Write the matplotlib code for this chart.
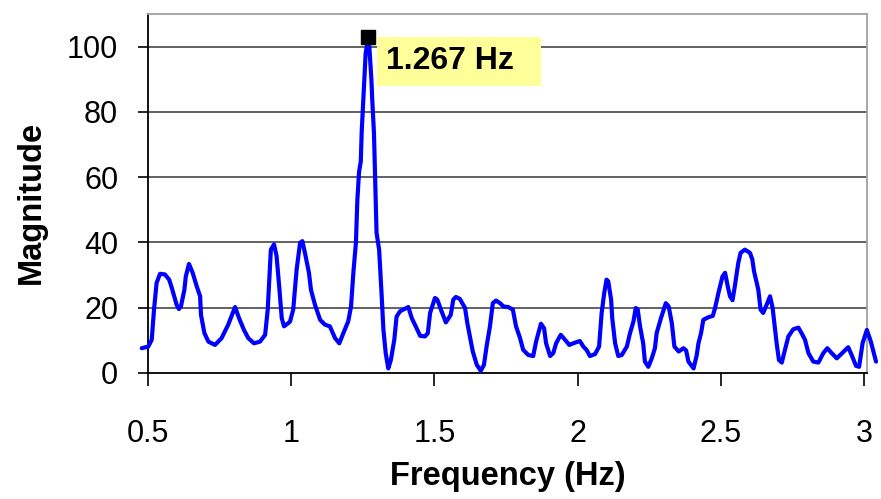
import numpy as np
import matplotlib
matplotlib.use("Agg")
import matplotlib.pyplot as plt

# spectrum (frequency in Hz, magnitude)
freq = [0.478, 0.501, 0.513, 0.521, 0.530, 0.542, 0.559, 0.574, 0.583, 0.600,
        0.608, 0.615, 0.627, 0.632, 0.643, 0.656, 0.670, 0.682, 0.685, 0.697,
        0.711, 0.734, 0.757, 0.780, 0.804, 0.818, 0.835, 0.850, 0.870, 0.891,
        0.909, 0.918, 0.929, 0.940, 0.949, 0.958, 0.967, 0.975, 0.990, 0.996,
        1.007, 1.019, 1.031, 1.039, 1.048, 1.062, 1.069, 1.083, 1.101, 1.118,
        1.135, 1.153, 1.168, 1.182, 1.199, 1.209, 1.217, 1.226, 1.231, 1.237,
        1.243, 1.246, 1.254, 1.260, 1.266, 1.272, 1.280, 1.283, 1.289, 1.298,
        1.307, 1.316, 1.322, 1.330, 1.339, 1.348, 1.360, 1.368, 1.380, 1.395,
        1.409, 1.421, 1.438, 1.450, 1.467, 1.477, 1.485, 1.502, 1.510, 1.525,
        1.540, 1.557, 1.566, 1.575, 1.589, 1.607, 1.615, 1.624, 1.634, 1.648,
        1.662, 1.673, 1.683, 1.694, 1.704, 1.715, 1.729, 1.741, 1.758, 1.774,
        1.785, 1.799, 1.810, 1.828, 1.845, 1.855, 1.863, 1.872, 1.883, 1.890,
        1.904, 1.915, 1.925, 1.941, 1.956, 1.971, 1.991, 2.008, 2.020, 2.031,
        2.043, 2.061, 2.075, 2.084, 2.093, 2.101, 2.107, 2.117, 2.121, 2.131,
        2.142, 2.154, 2.172, 2.183, 2.195, 2.203, 2.210, 2.218, 2.229, 2.235,
        2.247, 2.259, 2.270, 2.276, 2.291, 2.308, 2.318, 2.329, 2.338, 2.353,
        2.370, 2.379, 2.387, 2.405, 2.416, 2.422, 2.431, 2.439, 2.457, 2.472,
        2.480, 2.493, 2.506, 2.515, 2.523, 2.532, 2.541, 2.549, 2.561, 2.569,
        2.584, 2.602, 2.610, 2.616, 2.631, 2.639, 2.648, 2.660, 2.672, 2.681,
        2.687, 2.695, 2.703, 2.713, 2.724, 2.736, 2.753, 2.771, 2.782, 2.794,
        2.806, 2.823, 2.841, 2.858, 2.872, 2.887, 2.905, 2.926, 2.945, 2.957,
        2.972, 2.983, 2.995, 3.010, 3.024, 3.042]
magnitude = [7.6, 8.1, 10.2, 19.4, 27.6, 30.4, 30.2, 28.6, 26.1, 20.9,
             19.6, 20.4, 25.5, 29.6, 33.4, 30.7, 26.6, 23.5, 17.8, 12.2,
             9.6, 8.6, 10.7, 14.8, 20.2, 16.8, 13.2, 10.7, 9.1, 9.6,
             11.7, 19.4, 37.8, 39.4, 35.8, 26.6, 16.8, 14.3, 15.3, 15.8,
             19.4, 31.7, 39.9, 40.4, 36.8, 30.7, 25.5, 20.9, 16.3, 14.8,
             14.3, 10.7, 9.1, 12.2, 15.8, 20.4, 30.7, 39.9, 53.0, 61.7,
             64.8, 73.6, 87.8, 98.0, 101.1, 101.1, 89.9, 83.7, 73.5, 43.0,
             37.8, 23.5, 13.2, 6.1, 1.4, 4.0, 10.2, 17.3, 18.9, 19.6,
             20.2, 16.8, 13.7, 11.4, 11.2, 12.2, 18.4, 23.0, 22.5, 18.9,
             15.5, 17.8, 22.5, 23.3, 22.7, 19.9, 15.3, 11.2, 6.6, 2.5,
             0.7, 2.5, 8.6, 14.3, 21.4, 22.2, 21.4, 20.4, 20.2, 19.4,
             14.3, 10.7, 7.1, 5.5, 5.2, 9.6, 12.2, 15.1, 13.7, 9.1,
             5.2, 6.1, 9.1, 11.7, 10.2, 8.6, 9.3, 9.8, 8.1, 7.1,
             5.2, 5.8, 8.1, 18.4, 24.5, 28.6, 28.1, 22.5, 16.8, 9.1,
             5.2, 5.5, 8.1, 12.2, 15.8, 19.9, 19.4, 14.3, 9.1, 3.5,
             1.9, 4.5, 7.6, 12.2, 16.8, 21.4, 20.4, 15.3, 8.1, 6.6,
             7.6, 6.9, 3.5, 1.4, 5.5, 9.1, 12.2, 16.3, 17.1, 17.5,
             19.9, 25.0, 29.6, 30.7, 27.1, 23.5, 22.3, 26.6, 33.7, 36.8,
             37.8, 36.8, 34.8, 31.2, 25.5, 19.4, 18.4, 20.9, 23.5, 19.9,
             15.3, 9.1, 4.0, 3.2, 7.1, 11.2, 13.4, 13.9, 12.2, 10.2,
             6.1, 3.5, 3.2, 6.1, 7.6, 6.1, 4.5, 6.3, 7.9, 5.5,
             2.2, 1.9, 9.1, 13.2, 9.6, 3.5]

peak_freq = 1.267
peak_mag = 103
peak_label = "1.267 Hz"

x_ticks = [0.5, 1, 1.5, 2, 2.5, 3]
x_tick_labels = ["0.5", "1", "1.5", "2", "2.5", "3"]
y_ticks = [0, 20, 40, 60, 80, 100]

plt.rcParams['font.family'] = ['Liberation Sans', 'DejaVu Sans']

fig = plt.figure(figsize=(8.81, 4.99), dpi=100)
ax = fig.add_axes([148 / 881, 1 - 373 / 499, 719 / 881, 359 / 499])

ax.set_xlim(0.5, 3.0105)
ax.set_ylim(0, 110)

# horizontal grid only, drawn under the curve
for yv in y_ticks[1:]:
    ax.axhline(yv, color='#555555', lw=1.3, zorder=1)

ax.plot(freq, magnitude, color='#0000FF', lw=3.0, zorder=3, clip_on=False,
        solid_joinstyle='round', solid_capstyle='round')
ax.plot([peak_freq], [peak_mag], marker='s', ms=9.5, color='black',
        linestyle='none', zorder=4, clip_on=False)

# label box: a bit of extra room on the right like the original
ax.annotate(peak_label + "  ", xy=(peak_freq, peak_mag), xytext=(13.5, -17.6),
            textcoords='offset points', ha='left', va='center',
            fontsize=23, fontweight='bold', color='black', zorder=5,
            bbox=dict(boxstyle='square,pad=0.29', fc='#FFFF99', ec='none'))

ax.set_xticks(x_ticks)
ax.set_xticklabels(x_tick_labels)
ax.set_yticks(y_ticks)
ax.tick_params(axis='x', direction='out', length=9, width=1.2, pad=24,
               labelsize=22, color='black')
ax.tick_params(axis='y', direction='out', length=7.5, width=1.2, pad=14,
               labelsize=22, color='black')

for side in ['left', 'bottom']:
    ax.spines[side].set_color('black')
    ax.spines[side].set_linewidth(1.3)
for side in ['top', 'right']:
    ax.spines[side].set_color('#A0A0A0')
    ax.spines[side].set_linewidth(1.3)

ax.set_xlabel('Frequency (Hz)', fontsize=23.5, fontweight='bold')
ax.set_ylabel('Magnitude', fontsize=23.5, fontweight='bold')
ax.xaxis.set_label_coords(0.5, -0.245)
ax.yaxis.set_label_coords(-0.14, 0.476)

fig.savefig('out.png', dpi=100)
